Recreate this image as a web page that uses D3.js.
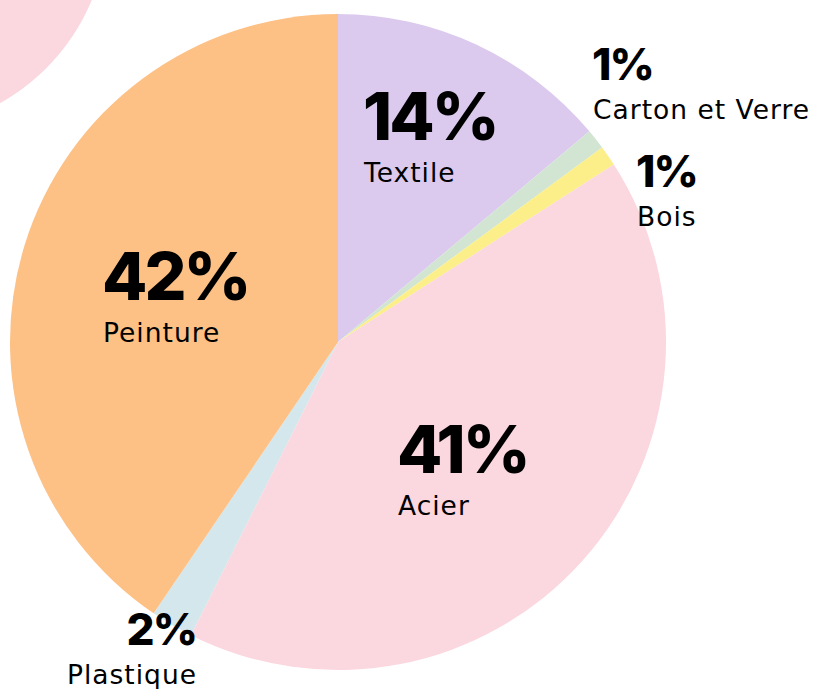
<!doctype html>
<html lang="fr">
<head>
    <meta http-equiv="content-type" content="text/html; charset=utf-8" />
    <title>Répartition des déchets</title>
    <style>
        html, body { margin: 0; padding: 0; background: #ffffff; overflow: hidden; }
        #chart { display: block; }
    </style>
</head>
<body>
    <svg id="chart"></svg>

    <script src="https://cdn.jsdelivr.net/npm/d3@7/dist/d3.min.js"></script>
    <script>
        // slices, clockwise from 12 o'clock
        const categories = ["Textile", "Carton et Verre", "Bois", "Acier", "Plastique", "Peinture"];
        const shares     = [13.9, 1.0, 1.0, 41.5, 2.1, 40.5];   // slice size
        const labels     = ["14%", "1%", "1%", "41%", "2%", "42%"]; // printed values
        const colors     = ["#dccaee", "#d1e5d2", "#fcee88", "#fbd7df", "#d4e7ec", "#fdc085"];

        // label placement, offset from pie centre (dx, dy of baseline), size and anchor
        const labelLayout = {
            "Textile":         {dx: 25,   dy: -202, big: 66, anchor: "start"},
            "Carton et Verre": {dx: 254,  dy: -262, big: 44, anchor: "start"},
            "Bois":            {dx: 298,  dy: -155, big: 44, anchor: "start"},
            "Acier":           {dx: 59,   dy: 131,  big: 66, anchor: "start"},
            "Plastique":       {dx: -142, dy: 303,  big: 44, anchor: "end"},
            "Peinture":        {dx: -236, dy: -42,  big: 66, anchor: "start"}
        };

        renderPie("#chart");

        function renderPie(container) {
            const width = 815, height = 689;
            const cx = 338, cy = 342, radius = 328;

            const svg = d3.select(container)
                .attr("width", width)
                .attr("height", height)
                .attr("viewBox", [0, 0, width, height]);

            // decorative circle in the corner
            svg.append("circle")
                .attr("cx", -103)
                .attr("cy", -81)
                .attr("r", 211)
                .attr("fill", colors[3]);

            const data = categories.map((c, i) => ({name: c, value: shares[i], label: labels[i], color: colors[i]}));

            const pie = d3.pie()
                .value(d => d.value)
                .sort(null);

            const arc = d3.arc()
                .innerRadius(0)
                .outerRadius(radius);

            const g = svg.append("g")
                .attr("transform", `translate(${cx}, ${cy})`);

            g.selectAll("path")
                .data(pie(data))
                .join("path")
                .attr("d", arc)
                .attr("fill", d => d.data.color);

            const text = g.append("g")
                .attr("fill", "#000")
                .selectAll("g")
                .data(data)
                .join("g")
                .attr("transform", d => `translate(${labelLayout[d.name].dx}, ${labelLayout[d.name].dy})`)
                .attr("text-anchor", d => labelLayout[d.name].anchor);

            text.append("text")
                .attr("font-family", "Inter, 'Liberation Sans', sans-serif")
                .attr("font-size", d => labelLayout[d.name].big)
                .attr("font-weight", 800)
                .attr("letter-spacing", "-0.045em")
                .text(d => d.label);

            text.append("text")
                .attr("x", 1)
                .attr("y", d => 35 + labelLayout[d.name].big * 0.1)
                .attr("font-family", "'DejaVu Sans', sans-serif")
                .attr("font-size", 26.5)
                .attr("letter-spacing", "1px")
                .attr("font-weight", 400)
                .text(d => d.name);
        }
    </script>
</body>
</html>
